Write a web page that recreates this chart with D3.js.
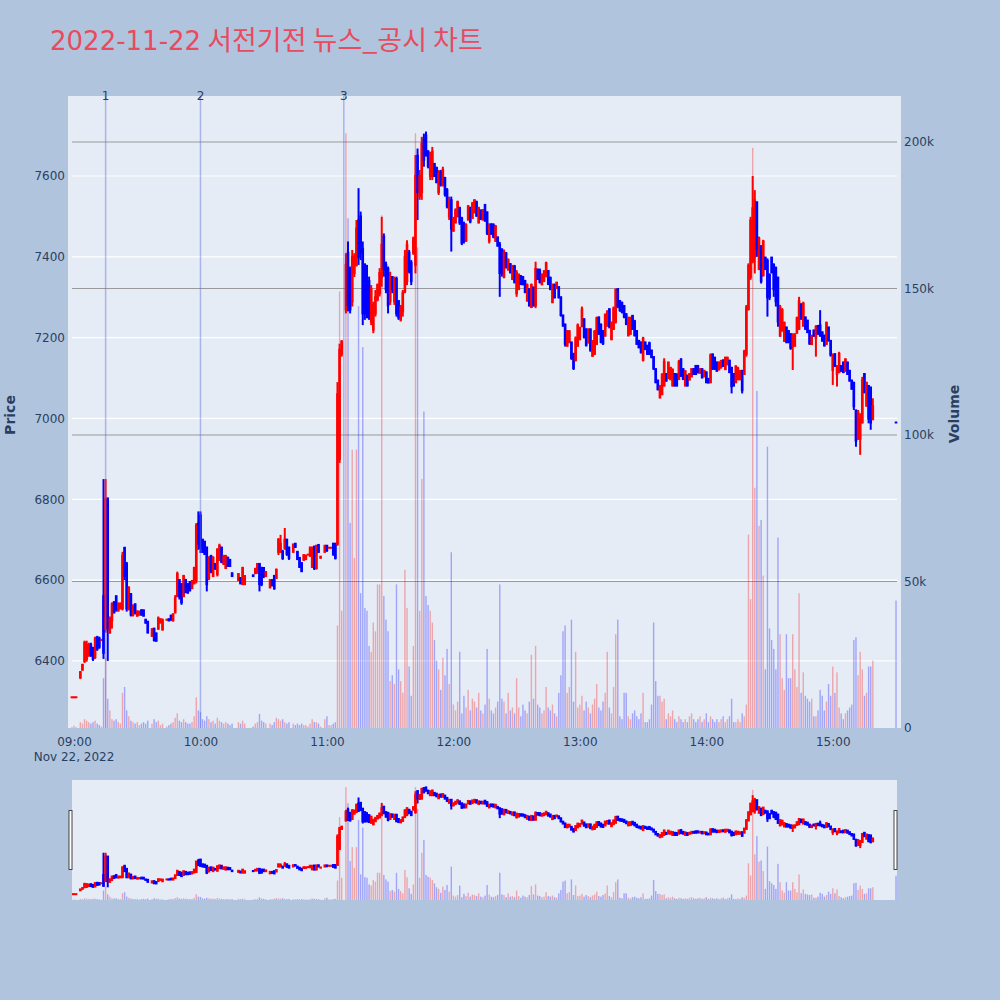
<!DOCTYPE html>
<html><head><meta charset="utf-8">
<script src="https://cdn.jsdelivr.net/npm/d3@7"></script>
<style>body{margin:0;background:#b0c4de;}svg{display:block}</style>
</head><body>
<svg id="c" width="1000" height="1000"></svg>
<script>
const time = [
"08:59","09:00","09:01","09:03","09:04","09:05","09:06","09:07","09:08","09:09",
"09:10","09:11","09:12","09:13","09:14","09:15","09:16","09:17","09:18","09:19",
"09:20","09:21","09:22","09:23","09:24","09:25","09:26","09:27","09:28","09:29",
"09:30","09:31","09:32","09:33","09:34","09:35","09:37","09:38","09:39","09:40",
"09:41","09:42","09:44","09:45","09:46","09:47","09:48","09:49","09:50","09:51",
"09:52","09:53","09:54","09:55","09:56","09:57","09:58","09:59","10:00","10:01",
"10:02","10:03","10:04","10:05","10:06","10:07","10:08","10:09","10:10","10:11",
"10:12","10:13","10:14","10:15","10:18","10:19","10:20","10:21","10:25","10:26",
"10:27","10:28","10:29","10:30","10:31","10:33","10:34","10:35","10:36","10:37",
"10:38","10:39","10:40","10:41","10:42","10:44","10:45","10:46","10:47","10:48",
"10:49","10:50","10:51","10:52","10:53","10:54","10:55","10:56","10:57","10:59",
"11:00","11:01","11:02","11:03","11:04","11:05","11:06","11:07",
"11:09","11:10","11:11","11:12","11:13","11:14","11:15","11:16","11:17","11:18","11:19",
"11:20","11:21","11:22","11:23","11:24","11:25","11:26","11:27","11:28","11:29",
"11:30","11:31","11:32","11:33","11:34","11:35","11:36","11:37","11:38","11:39",
"11:40","11:41","11:42","11:43","11:44","11:45","11:46","11:47","11:48","11:49",
"11:50","11:51","11:52","11:53","11:54","11:55","11:56","11:57","11:58","11:59",
"12:00","12:01","12:02","12:03","12:04","12:05","12:06","12:07","12:08","12:09",
"12:10","12:11","12:12","12:13","12:14","12:15","12:16","12:17","12:18","12:19",
"12:20","12:21","12:22","12:23","12:24","12:25","12:26","12:27","12:28","12:29",
"12:30","12:31","12:32","12:33","12:34","12:35","12:36","12:37","12:38","12:39",
"12:40","12:41","12:42","12:43","12:44","12:45","12:46","12:47","12:48","12:49",
"12:50","12:51","12:52","12:53","12:54","12:55","12:56","12:57","12:58","12:59",
"13:00","13:01","13:02","13:03","13:04","13:05","13:06","13:07","13:08","13:09",
"13:10","13:11","13:12","13:13","13:14","13:15","13:16","13:17","13:18","13:19",
"13:20","13:21","13:22","13:23","13:24","13:25","13:26","13:27","13:28","13:29",
"13:30","13:31","13:32","13:33","13:34","13:35","13:36","13:37","13:38","13:39",
"13:40","13:41","13:42","13:43","13:44","13:45","13:46","13:47","13:48","13:49",
"13:50","13:51","13:52","13:53","13:54","13:55","13:56","13:57","13:58","13:59",
"14:00","14:01","14:02","14:03","14:04","14:05","14:06","14:07","14:08","14:09",
"14:10","14:11","14:12","14:13","14:14","14:15","14:16","14:17","14:18","14:19",
"14:20","14:21","14:22","14:23","14:24","14:25","14:26","14:27","14:28","14:29",
"14:30","14:31","14:32","14:33","14:34","14:35","14:36","14:37","14:38","14:39",
"14:40","14:41","14:42","14:43","14:44","14:45","14:46","14:47","14:48","14:49",
"14:50","14:51","14:52","14:53","14:54","14:55","14:56","14:57","14:58","14:59",
"15:00","15:01","15:02","15:03","15:04","15:05","15:06","15:07","15:08","15:09",
"15:10","15:11","15:12","15:13","15:14","15:15","15:16","15:17","15:18","15:19",
"15:30"];

const open = [
6310,6310,6310,6360,6378,6400,6405,6415,6440,6430,
6410,6458,6455,6452,6560,6480,6800,6470,6500,6545,
6560,6525,6530,6530,6680,6640,6530,6565,6515,6540,
6512,6515,6525,6525,6502,6497,6462,6480,6468,6480,
6495,6478,6502,6503,6512,6500,6520,6560,6600,6590,
6560,6600,6590,6595,6580,6592,6600,6740,6760,6700,
6695,6680,6605,6660,6610,6640,6615,6650,6680,6640,
6630,6655,6650,6617,6600,6605,6590,6590,6612,6617,
6618,6640,6630,6630,6610,6582,6600,6610,6605,6670,
6670,6670,6680,6700,6680,6670,6690,6670,6655,6642,
6650,6652,6663,6660,6633,6683,6630,6687,6655,6670,
6685,6680,6680,6690,6690,6690,6900,7160,
7270,7410,7370,7290,7360,7380,7490,7500,7420,7380,7330,
7340,7240,7220,7260,7295,7310,7350,7450,7380,7370,
7290,7350,7290,7345,7290,7245,7265,7315,7340,7410,
7385,7410,7380,7650,7550,7560,7690,7700,7660,7600,
7600,7630,7620,7560,7610,7580,7595,7565,7500,7540,
7465,7485,7500,7520,7495,7480,7440,7492,7520,7496,
7510,7535,7485,7515,7492,7528,7510,7440,7480,7478,
7440,7448,7430,7418,7350,7408,7368,7382,7345,7376,
7310,7320,7352,7350,7340,7292,7320,7276,7324,7280,
7368,7366,7332,7340,7352,7365,7348,7288,7330,7323,
7325,7300,7255,7232,7180,7190,7188,7160,7145,7180,
7196,7228,7245,7220,7188,7220,7155,7160,7185,7250,
7232,7215,7205,7230,7270,7196,7222,7240,7320,7290,
7286,7278,7258,7206,7210,7254,7240,7216,7192,7188,
7145,7188,7180,7186,7168,7152,7122,7094,7052,7060,
7082,7110,7100,7097,7082,7110,7108,7098,7146,7122,
7082,7106,7096,7104,7122,7130,7130,7113,7122,7104,
7114,7098,7090,7158,7150,7138,7121,7126,7144,7122,
7134,7143,7125,7110,7090,7097,7097,7118,7110,7160,
7270,7350,7390,7400,7535,7370,7425,7355,7398,7390,
7355,7398,7380,7372,7348,7205,7218,7192,7225,7216,
7208,7180,7180,7212,7222,7282,7230,7250,7242,7217,
7184,7218,7200,7229,7230,7213,7205,7185,7225,7192,
7120,7159,7110,7115,7130,7138,7118,7138,7118,7094,
7088,7020,6950,6950,6990,7110,7032,7080,7076,6998,
6990];

const high = [
6310,6310,6310,6375,6393,6450,6450,6445,6445,6435,
6460,6462,6460,6452,6850,6850,6805,6510,6545,6548,
6562,6545,6545,6670,6682,6645,6585,6568,6540,6542,
6525,6525,6528,6527,6503,6498,6481,6481,6470,6510,
6505,6505,6502,6505,6514,6518,6563,6621,6602,6592,
6613,6603,6592,6597,6600,6633,6741,6770,6770,6702,
6697,6683,6659,6662,6659,6642,6679,6690,6683,6662,
6662,6658,6652,6618,6617,6607,6633,6612,6612,6629,
6642,6642,6633,6632,6622,6601,6601,6613,6629,6704,
6712,6675,6729,6702,6683,6690,6692,6671,6657,6644,
6663,6663,6663,6683,6683,6684,6687,6688,6658,6687,
6686,6680,6680,6692,6692,7090,7185,7194,
7409,7438,7376,7417,7409,7491,7570,7512,7438,7384,7380,
7351,7330,7289,7318,7334,7372,7499,7458,7388,7376,
7363,7351,7351,7351,7293,7281,7318,7417,7441,7417,
7392,7450,7652,7668,7615,7697,7705,7710,7664,7660,
7672,7631,7623,7615,7615,7623,7598,7570,7549,7549,
7499,7520,7539,7524,7499,7487,7483,7528,7524,7536,
7542,7539,7524,7516,7518,7531,7512,7483,7483,7483,
7479,7450,7437,7421,7418,7412,7396,7384,7380,7380,
7367,7359,7355,7351,7343,7334,7322,7334,7326,7388,
7371,7371,7359,7367,7388,7367,7351,7334,7334,7338,
7326,7301,7256,7235,7219,7219,7190,7161,7203,7235,
7227,7277,7248,7223,7223,7223,7194,7219,7252,7252,
7235,7219,7260,7268,7273,7240,7277,7322,7322,7293,
7289,7281,7260,7252,7252,7256,7244,7219,7194,7190,
7202,7190,7182,7190,7170,7153,7124,7095,7083,7112,
7149,7112,7141,7128,7124,7112,7112,7145,7149,7124,
7120,7108,7112,7124,7124,7132,7132,7124,7124,7120,
7116,7099,7161,7161,7153,7141,7141,7145,7145,7153,
7153,7145,7128,7112,7132,7128,7120,7120,7170,7281,
7384,7499,7600,7565,7536,7450,7429,7442,7400,7396,
7359,7400,7384,7376,7351,7281,7273,7240,7227,7219,
7211,7211,7211,7252,7301,7285,7289,7252,7244,7219,
7207,7219,7231,7231,7268,7215,7207,7240,7227,7194,
7161,7161,7132,7165,7132,7141,7149,7141,7120,7095,
7091,7021,7021,7013,7103,7112,7091,7083,7079,7050,
6990];

const low = [
6310,6310,6310,6355,6377,6395,6398,6410,6410,6400,
6405,6425,6430,6450,6405,6470,6400,6468,6480,6518,
6522,6522,6528,6525,6600,6522,6525,6510,6510,6515,
6510,6512,6512,6510,6492,6469,6460,6448,6448,6477,
6493,6475,6502,6499,6500,6498,6518,6559,6552,6539,
6559,6568,6566,6572,6578,6590,6592,6675,6667,6667,
6662,6572,6600,6617,6609,6625,6609,6648,6642,6638,
6628,6633,6633,6609,6599,6590,6588,6588,6610,6617,
6617,6572,6585,6605,6609,6580,6585,6576,6604,6662,
6668,6650,6675,6660,6650,6668,6680,6650,6630,6620,
6649,6650,6663,6659,6630,6625,6626,6667,6655,6668,
6670,6680,6680,6660,6651,6685,6890,7153,
7260,7265,7260,7277,7350,7376,7380,7392,7231,7244,7248,
7244,7231,7211,7252,7290,7302,7326,7351,7310,7260,
7281,7310,7281,7252,7244,7240,7252,7310,7330,7359,
7330,7405,7359,7491,7541,7541,7623,7648,7619,7590,
7590,7598,7582,7553,7574,7574,7549,7520,7491,7413,
7462,7483,7499,7479,7429,7433,7437,7491,7483,7495,
7508,7499,7483,7491,7491,7487,7454,7433,7454,7446,
7437,7425,7301,7351,7347,7371,7367,7359,7343,7334,
7301,7318,7330,7330,7310,7289,7277,7273,7277,7273,
7343,7334,7330,7339,7351,7330,7318,7285,7297,7322,
7297,7252,7227,7178,7178,7186,7145,7120,7141,7178,
7194,7227,7198,7178,7186,7165,7153,7157,7182,7207,
7186,7182,7203,7227,7223,7194,7219,7235,7273,7264,
7260,7248,7231,7203,7207,7219,7203,7182,7174,7161,
7141,7169,7157,7157,7149,7120,7087,7070,7050,7058,
7079,7091,7099,7095,7079,7079,7079,7095,7103,7095,
7079,7079,7095,7103,7108,7108,7112,7112,7099,7103,
7087,7087,7087,7120,7120,7116,7120,7124,7128,7120,
7132,7112,7062,7079,7087,7095,7095,7062,7108,7153,
7268,7343,7384,7359,7400,7367,7334,7351,7367,7252,
7293,7359,7301,7277,7227,7202,7215,7190,7186,7186,
7170,7120,7178,7211,7219,7244,7227,7219,7211,7182,
7182,7202,7153,7207,7202,7190,7178,7182,7190,7153,
7083,7128,7079,7112,7116,7112,7116,7108,7091,7071,
7021,6930,6947,6910,6988,7062,7029,6988,6972,6996,
6990];

const close = [
6310,6310,6310,6372,6390,6445,6440,6435,6415,6405,
6455,6430,6435,6452,6420,6800,6480,6505,6540,6520,
6530,6540,6540,6660,6610,6530,6580,6515,6535,6520,
6522,6520,6515,6512,6495,6470,6478,6452,6450,6505,
6503,6500,6502,6500,6502,6515,6555,6615,6560,6545,
6610,6570,6570,6575,6598,6630,6735,6690,6680,6670,
6665,6590,6655,6625,6655,6630,6675,6685,6645,6660,
6660,6635,6635,6610,6615,6592,6630,6610,6610,6628,
6640,6590,6590,6610,6620,6600,6587,6580,6625,6700,
6690,6655,6700,6665,6655,6688,6682,6652,6633,6622,
6662,6660,6663,6680,6680,6630,6685,6670,6658,6685,
6674,6680,6680,6665,6655,7060,7170,7190,
7380,7280,7270,7400,7400,7470,7400,7410,7260,7260,7260,
7250,7320,7280,7300,7330,7360,7430,7370,7320,7280,
7350,7320,7345,7260,7250,7275,7310,7400,7430,7365,
7340,7445,7600,7560,7600,7680,7640,7660,7625,7650,
7660,7600,7585,7605,7580,7615,7555,7525,7540,7470,
7495,7515,7535,7485,7435,7440,7478,7525,7488,7532,
7540,7502,7520,7495,7515,7490,7460,7478,7458,7450,
7475,7428,7360,7360,7410,7375,7392,7362,7375,7338,
7360,7355,7333,7332,7313,7330,7280,7330,7280,7370,
7345,7338,7355,7364,7384,7333,7320,7330,7300,7336,
7300,7256,7230,7185,7215,7215,7150,7125,7198,7230,
7224,7270,7202,7182,7220,7170,7190,7215,7248,7210,
7190,7186,7256,7264,7228,7236,7272,7318,7278,7268,
7264,7252,7234,7248,7248,7222,7206,7185,7176,7164,
7198,7172,7160,7160,7152,7124,7090,7072,7080,7108,
7140,7094,7138,7125,7120,7082,7082,7140,7106,7098,
7116,7082,7110,7122,7110,7110,7114,7122,7102,7118,
7090,7089,7156,7124,7124,7118,7138,7142,7130,7150,
7150,7115,7080,7082,7128,7124,7117,7070,7165,7275,
7378,7490,7520,7540,7420,7445,7340,7438,7370,7300,
7300,7362,7320,7290,7240,7275,7268,7236,7190,7190,
7175,7205,7208,7248,7290,7248,7284,7222,7214,7186,
7204,7205,7226,7210,7206,7193,7181,7236,7194,7158,
7155,7130,7128,7160,7118,7115,7146,7110,7094,7074,
7030,6945,7015,7000,7095,7066,7088,7000,6990,7030,
6990];

const volume = [
300,800,300,2000,1500,3000,2500,2000,1500,2000,
2500,1500,1000,500,17000,24000,10000,6000,3000,2500,
3000,2000,1500,12000,14000,6000,4000,2500,2000,1500,
2000,1000,1500,2000,1500,2500,1500,3000,2000,2500,
1000,1500,500,1000,1500,2000,3500,5000,2500,2000,
3000,2000,1500,1500,2000,4000,10500,6000,5500,3000,
2500,4000,3000,2000,2500,1500,3500,2500,2000,1500,
2000,1500,1000,1500,2000,1500,2500,1500,500,1500,
2000,4800,2500,2000,1500,1500,1000,2000,3500,3000,
2500,3000,2000,1500,2000,1500,1000,1500,1000,1500,
1000,1000,500,1500,3000,2000,2000,1500,500,3000,
4000,1000,1000,1500,2000,35000,149000,40000,
203000,174000,70000,95000,58000,95000,144000,46000,130000,41000,40000,
28000,26000,36000,33000,49000,49000,175000,45000,37000,33000,
16000,18000,15000,49000,20000,16000,12000,54000,41000,21000,
11000,28000,203000,164000,40000,85000,108000,45000,42000,40000,
36000,30000,23000,20000,13000,24000,18000,27000,15000,60000,
8000,6000,9000,26000,5000,11000,7000,13000,6000,10000,
9000,7000,12000,6000,5000,8000,27000,10000,6000,5000,
7000,9000,49000,10000,9000,5000,12000,6000,7000,5000,
17000,7000,4000,8000,6000,5000,9000,25000,10000,28000,
8000,7000,5000,6000,14000,7000,6000,8000,5000,4000,
12000,18000,33000,35000,12000,14000,37000,9000,26000,7000,
8000,11000,6000,9000,7000,5000,8000,10000,15000,7000,
6000,9000,12000,26000,7000,5000,14000,32000,37000,4000,
3000,12000,12000,4000,3000,5000,6000,4000,3000,5000,
12000,2000,2000,3000,8000,36000,16000,11000,11000,9000,
10000,3000,5000,4000,6000,3000,2000,4000,3000,2000,
3000,2000,4000,5000,3000,2000,3000,4000,2000,3000,
5000,2000,4000,3000,2000,3000,2000,3000,4000,2000,
3000,4000,10000,2000,2000,3000,2000,5000,4000,8000,
66000,44000,198000,82000,115000,69000,71000,52000,20000,96000,
34000,30000,27000,20000,65000,32000,17000,13000,32000,17000,
17000,32000,20000,14000,46000,12000,19000,11000,10000,9000,
10000,4000,4000,6000,13000,11000,6000,9000,15000,11000,
21000,12000,19000,7000,5000,3000,5000,6000,7000,8000,
30000,31000,18000,26000,20000,11000,12000,21000,21000,23000,
43500];

const newsTimes = ["09:15","10:00","11:08"];
const newsLabels = ["1","2","3"];
const priceTicks = [6400,6600,6800,7000,7200,7400,7600];
const volumeTicks = [0,50000,100000,150000,200000];
const hourTicks = ["09:00","10:00","11:00","12:00","13:00","14:00","15:00"];
const titleDate = "2022-11-22";
const titleName = " 서전기전 뉴스_공시 차트";

const RED = "#ff0000", BLUE = "#0000ff";
const FONT = "'DejaVu Sans', Verdana, sans-serif";
const AXC = "#2a3f5f";
const T = s => { const [h, m] = s.split(":").map(Number); return new Date(2022, 10, 22, h, m); };
const rows = time.map((t, i) => ({ t: T(t), o: open[i], h: high[i], l: low[i], c: close[i], v: volume[i] }));
rows.forEach((d, i) => { d.up = d.c > d.o ? true : d.c < d.o ? false : !(i > 0 && d.c < rows[i - 1].c); });

const L = 68, R = 901, TOP = 96, BOT = 728;
const x = d3.scaleTime().domain([new Date(2022,10,22,8,57,9), new Date(2022,10,22,15,32,22)]).range([L, R]);
const y = d3.scaleLinear().domain([6234, 7798]).range([BOT, TOP]);
const yv = d3.scaleLinear().domain([0, 215700]).range([BOT, TOP]);

const svg = d3.select("#c");
svg.append("rect").attr("width", 1000).attr("height", 1000).attr("fill", "#b0c4de");
svg.append("rect").attr("x", L).attr("y", TOP).attr("width", R - L).attr("height", BOT - TOP).attr("fill", "#e5ecf6");

const defs = svg.append("defs");
defs.append("clipPath").attr("id", "clipMain").append("rect").attr("x", L).attr("y", TOP).attr("width", R - L).attr("height", BOT - TOP);
defs.append("clipPath").attr("id", "clipSl").append("rect").attr("x", 72).attr("y", 780).attr("width", 825).attr("height", 120);

// grid
svg.append("g").selectAll("line").data(priceTicks).join("line")
  .attr("x1", 72).attr("x2", 897).attr("y1", d => y(d)).attr("y2", d => y(d))
  .attr("stroke", "#ffffff").attr("stroke-width", 1.2);
svg.append("g").selectAll("line").data(volumeTicks.filter(d => d > 0)).join("line")
  .attr("x1", 72).attr("x2", 897).attr("y1", d => yv(d)).attr("y2", d => yv(d))
  .attr("stroke", "#9a9a9a").attr("stroke-width", 1.2);

function drawVolume(g, ys, bw) {
  g.selectAll("rect.v").data(rows).join("rect").attr("class", "v")
    .attr("x", d => x(d.t) - bw / 2).attr("width", bw)
    .attr("y", d => ys(d.v)).attr("height", d => ys(0) - ys(d.v))
    .attr("fill", d => d.up ? RED : BLUE).attr("fill-opacity", 0.3);
}
function drawCandles(g, ys, ww, bw) {
  g.selectAll("line.w").data(rows).join("line").attr("class", "w")
    .attr("x1", d => x(d.t)).attr("x2", d => x(d.t))
    .attr("y1", d => ys(d.h)).attr("y2", d => ys(d.l))
    .attr("stroke", d => d.up ? RED : BLUE).attr("stroke-width", ww);
  g.selectAll("rect.b").data(rows).join("rect").attr("class", "b")
    .attr("x", d => x(d.t) - bw / 2).attr("width", bw)
    .attr("y", d => ys(Math.max(d.o, d.c)) - 1)
    .attr("height", d => Math.abs(ys(d.o) - ys(d.c)) + 2)
    .attr("fill", d => d.up ? RED : BLUE);
}

const gMain = svg.append("g").attr("clip-path", "url(#clipMain)");
drawVolume(gMain.append("g"), yv, 1.4);
drawCandles(gMain.append("g"), y, 2, 2.6);

// news markers
const gN = svg.append("g");
gN.selectAll("line").data(newsTimes).join("line")
  .attr("x1", d => x(T(d))).attr("x2", d => x(T(d))).attr("y1", TOP).attr("y2", BOT)
  .attr("stroke", "#5b72e8").attr("stroke-opacity", 0.45).attr("stroke-width", 1.5);
gN.selectAll("text").data(newsTimes).join("text")
  .attr("x", d => x(T(d))).attr("y", 100).attr("text-anchor", "middle")
  .attr("font-family", FONT).attr("font-size", 12).attr("fill", AXC)
  .text((d, i) => newsLabels[i]);

// axes
const gx = svg.append("g").attr("transform", `translate(0,${BOT})`)
  .call(d3.axisBottom(x).tickValues(hourTicks.map(T)).tickFormat(d3.timeFormat("%H:%M")).tickSize(0).tickPadding(9));
gx.select(".domain").remove();
gx.attr("font-family", FONT).attr("font-size", 12).attr("color", AXC);
svg.append("text").attr("x", x(T("09:00"))).attr("y", 761).attr("text-anchor", "middle")
  .attr("font-family", FONT).attr("font-size", 12).attr("fill", AXC).text("Nov 22, 2022");

const gy = svg.append("g").attr("transform", `translate(${L},0)`)
  .call(d3.axisLeft(y).tickValues(priceTicks).tickFormat(d3.format("d")).tickSize(0).tickPadding(3));
gy.select(".domain").remove();
gy.attr("font-family", FONT).attr("font-size", 12).attr("color", AXC);

const gy2 = svg.append("g").attr("transform", `translate(${R},0)`)
  .call(d3.axisRight(yv).tickValues(volumeTicks).tickFormat(d => d === 0 ? "0" : (d / 1000) + "k").tickSize(0).tickPadding(3));
gy2.select(".domain").remove();
gy2.attr("font-family", FONT).attr("font-size", 12).attr("color", AXC);

svg.append("text").attr("transform", "translate(15,415) rotate(-90)").attr("text-anchor", "middle")
  .attr("font-family", FONT).attr("font-size", 14).attr("font-weight", "bold").attr("fill", AXC).text("Price");
svg.append("text").attr("transform", "translate(959,414) rotate(-90)").attr("text-anchor", "middle")
  .attr("font-family", FONT).attr("font-size", 14).attr("font-weight", "bold").attr("fill", AXC).text("Volume");

// title
const tt = svg.append("text").attr("x", 50).attr("y", 50)
  .attr("font-family", "'DejaVu Sans', 'Noto Sans CJK KR', sans-serif").attr("font-size", 26)
  .attr("fill", "#e84b5e");
tt.append("tspan").text(titleDate);
tt.append("tspan").attr("font-size", 27).attr("font-family", "'Noto Sans CJK KR', sans-serif").text(titleName);

// range slider
const ys = d3.scaleLinear().domain([6234, 7798]).range([900, 780]);
const yvs = d3.scaleLinear().domain([0, 215700]).range([900, 780]);
svg.append("rect").attr("x", 72).attr("y", 780).attr("width", 825).attr("height", 120).attr("fill", "#e5ecf6");
const gS = svg.append("g").attr("clip-path", "url(#clipSl)");
drawVolume(gS.append("g"), yvs, 1.4);
drawCandles(gS.append("g"), ys, 2, 2.6);
[70.5, 895.5].forEach(hx => {
  svg.append("rect").attr("x", hx - 1.5).attr("y", 810.5).attr("width", 3).attr("height", 59)
    .attr("fill", "#ffffff").attr("stroke", "#444").attr("stroke-width", 1);
});
</script>
</body></html>
